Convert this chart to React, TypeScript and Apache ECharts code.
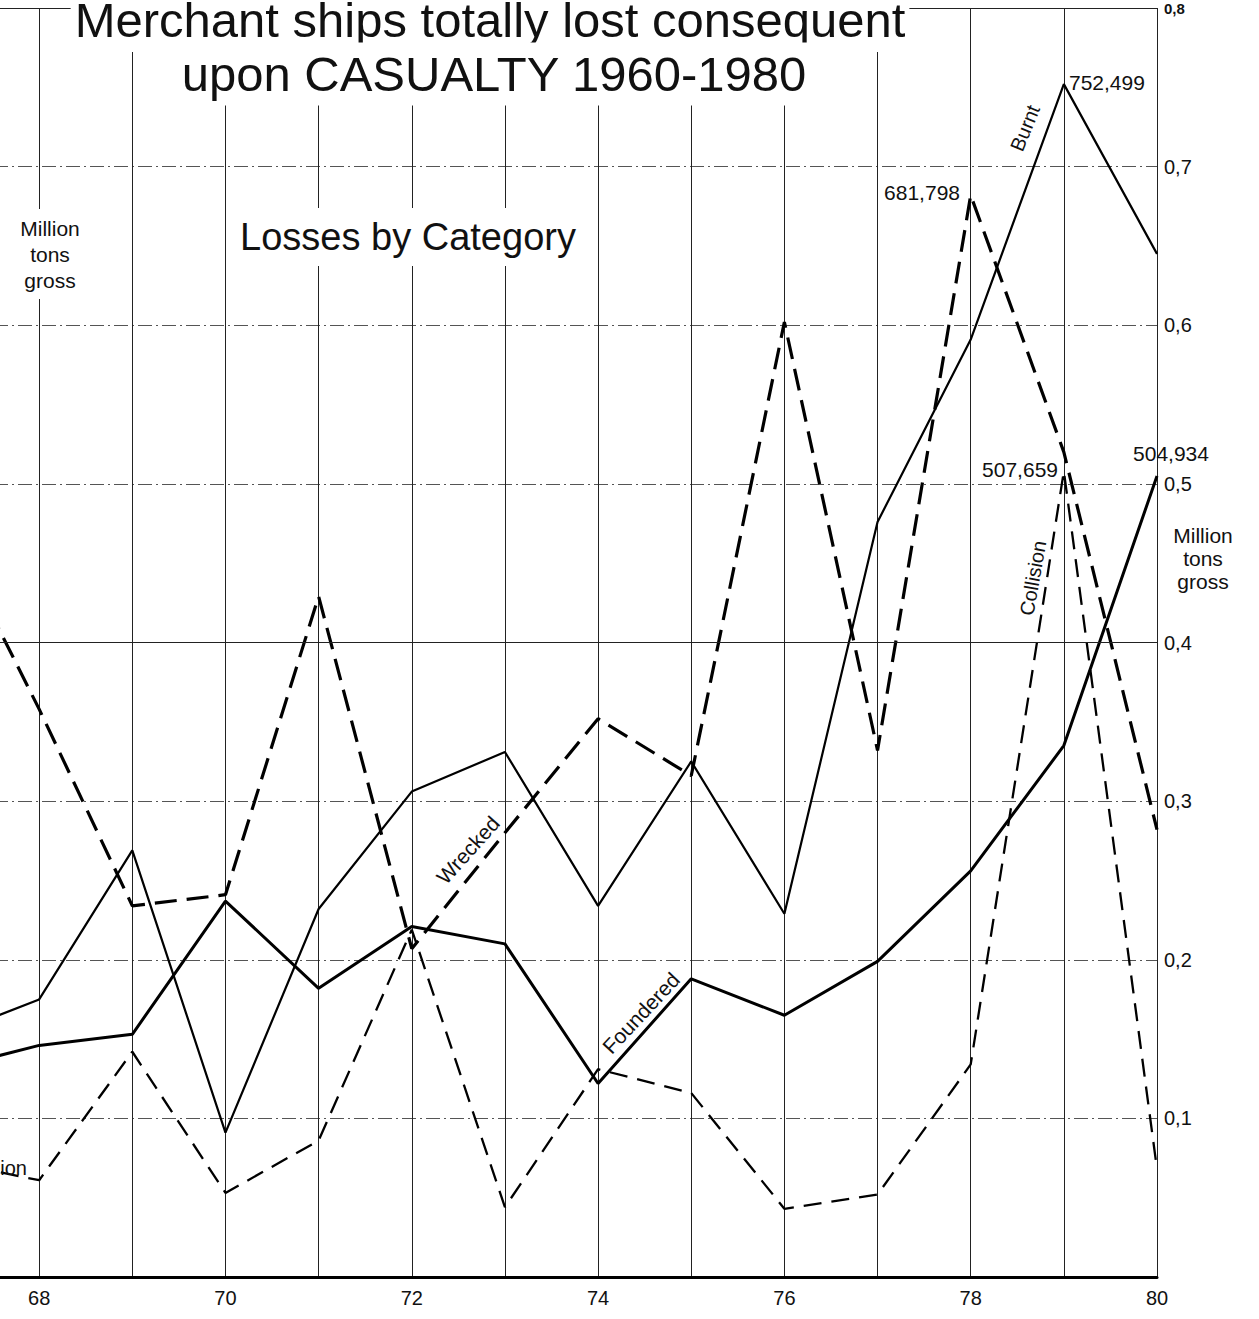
import React, { useEffect, useRef } from 'react';
import * as echarts from 'echarts';

const years = [67, 68, 69, 70, 71, 72, 73, 74, 75, 76, 77, 78, 79, 80];
const burnt = [0.152, 0.175, 0.269, 0.091, 0.232, 0.306, 0.331, 0.234, 0.325, 0.229, 0.476, 0.591, 0.752, 0.645];
const foundered = [0.131, 0.146, 0.153, 0.237, 0.182, 0.221, 0.21, 0.122, 0.188, 0.165, 0.199, 0.256, 0.335, 0.505];
const wrecked = [0.475, 0.358, 0.234, 0.241, 0.429, 0.207, 0.28, 0.352, 0.316, 0.602, 0.332, 0.682, 0.52, 0.282];
const collision = [0.073, 0.061, 0.142, 0.053, 0.086, 0.219, 0.044, 0.131, 0.116, 0.043, 0.052, 0.134, 0.508, 0.068];
const yMax = 0.8;
const yStep = 0.1;

const FONT = '"Liberation Sans", Arial, Helvetica, sans-serif';
const INK = '#111';
const SHIFT = 57; // the chart is cropped on the left: year 67 lies off the page

const pairs = (vals: number[]) => years.map((y, i) => [y, vals[i]]);

export default function App() {
  const ref = useRef<HTMLDivElement>(null);
  useEffect(() => {
    document.body.style.margin = '0';
    document.body.style.overflow = 'hidden';
    const chart = echarts.init(ref.current!, null, { renderer: 'svg' });
    const txt = (text: string, x: number, y: number, size: number, extra: any = {}) => ({
      type: 'text',
      x,
      y,
      z: 100,
      rotation: extra.rotation || 0,
      style: {
        text,
        font: `${extra.weight || 'normal'} ${size}px ${FONT}`,
        fill: INK,
        align: extra.align || 'center',
        verticalAlign: 'middle',
        lineHeight: extra.lineHeight,
        backgroundColor: extra.bg,
        padding: extra.padding,
      },
    });
    const deg = (d: number) => (d * Math.PI) / 180;
    chart.setOption({
      animation: false,
      backgroundColor: '#fff',
      grid: { left: 0, right: 102, top: 8, bottom: 42, containLabel: false },
      xAxis: {
        type: 'value',
        min: 67,
        max: 80,
        interval: 1,
        axisLine: { show: true, lineStyle: { color: '#000', width: 3 } },
        axisTick: { show: false },
        axisLabel: {
          formatter: (v: number) => (v >= 68 && v % 2 === 0 ? String(v) : ''),
          fontSize: 20,
          fontFamily: FONT,
          color: INK,
          margin: 11,
        },
        splitLine: { show: true, lineStyle: { color: '#222', width: 1 } },
      },
      yAxis: {
        type: 'value',
        position: 'right',
        min: 0,
        max: yMax,
        interval: yStep,
        axisLine: { show: false },
        axisTick: { show: false },
        axisLabel: {
          formatter: (v: number) =>
            v === 0 ? '' : v >= 0.79 ? '{s|' + v.toFixed(1).replace('.', ',') + '}' : v.toFixed(1).replace('.', ','),
          fontSize: 20,
          fontFamily: FONT,
          color: INK,
          margin: 7,
          rich: { s: { fontSize: 15, fontWeight: 'bold', fontFamily: FONT, color: INK } },
        },
        splitLine: { show: true, lineStyle: { color: '#555', width: 1, type: [14, 4, 2, 4] } },
      },
      series: [
        {
          name: 'Burnt',
          type: 'line',
          data: pairs(burnt),
          symbol: 'none',
          lineStyle: { color: '#000', width: 2.2 },
        },
        {
          name: 'Foundered',
          type: 'line',
          data: pairs(foundered),
          symbol: 'none',
          lineStyle: { color: '#000', width: 3 },
          markLine: {
            silent: true,
            symbol: 'none',
            label: { show: false },
            lineStyle: { color: '#222', width: 1, type: 'solid' },
            data: [{ yAxis: 0.4 }, { yAxis: 0.8 }],
          },
        },
        {
          name: 'Wrecked',
          type: 'line',
          data: pairs(wrecked),
          symbol: 'none',
          lineStyle: { color: '#000', width: 3.2, type: [22, 10] },
        },
        {
          name: 'Collision',
          type: 'line',
          data: pairs(collision),
          symbol: 'none',
          lineStyle: { color: '#000', width: 2.3, type: [18, 10] },
        },
      ],
      graphic: [
        {
          type: 'group',
          x: SHIFT,
          y: 0,
          children: [
            txt('Merchant ships totally lost consequent', 490, 20, 49, { bg: '#fff', padding: [10, 4, 5, 4] }),
            txt('upon CASUALTY 1960-1980', 494, 74, 49, { bg: '#fff', padding: [6, 10, 8, 10] }),
            txt('Losses by Category', 408, 237, 38, { bg: '#fff', padding: [10, 4, 10, 4] }),
            txt('Million\ntons\ngross', 50, 254, 21, { lineHeight: 26, bg: '#fff', padding: [6, 2, 6, 2] }),
            txt('Million\ntons\ngross', 1203, 558, 21, { lineHeight: 23 }),
            txt('752,499', 1069, 82, 21, { align: 'left' }),
            txt('681,798', 960, 192, 21, { align: 'right' }),
            txt('507,659', 1058, 469, 21, { align: 'right' }),
            txt('504,934', 1171, 453, 21),
            txt('Burnt', 1025, 128, 20, { rotation: deg(68) }),
            txt('Collision', 1033, 578, 20, { rotation: deg(80) }),
            txt('Wrecked', 468, 850, 21, { rotation: deg(48) }),
            txt('Foundered', 641, 1013, 21, { rotation: deg(47) }),
            txt('Collision', 27, 1168, 20, { align: 'right' }),
          ],
        },
      ],
    });
    return () => chart.dispose();
  }, []);
  return (
    <div
      ref={ref}
      style={{ position: 'absolute', left: -SHIFT, top: 0, width: 1259 + SHIFT, height: 1319, background: '#fff' }}
    />
  );
}
